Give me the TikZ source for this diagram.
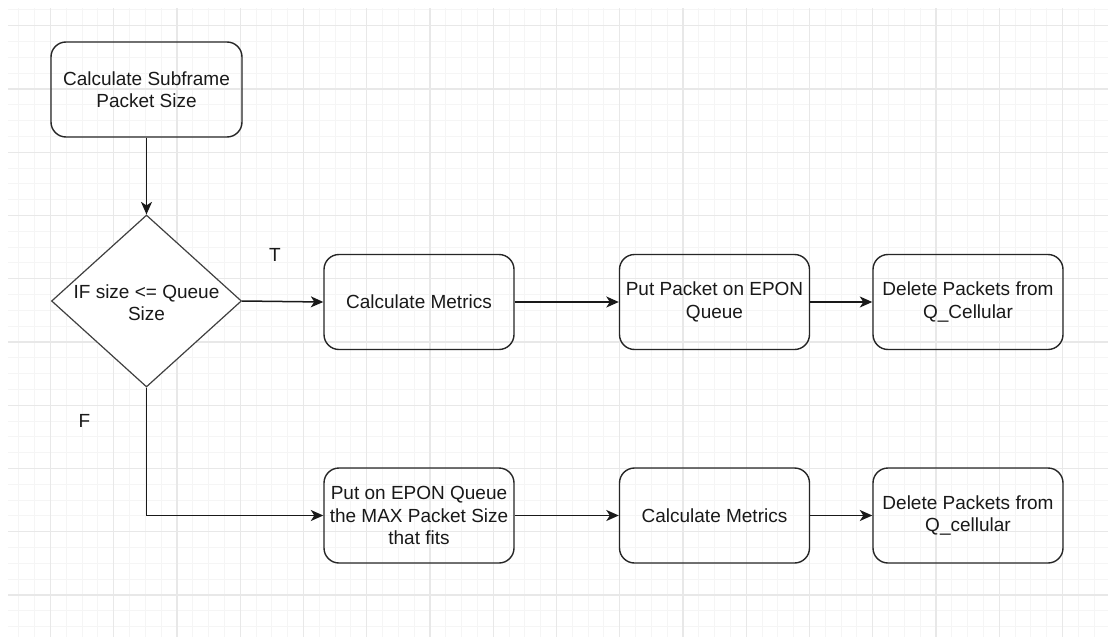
\documentclass[tikz,border=0pt]{standalone}
\usepackage{fontspec}
\setmainfont{Liberation Sans}
\usetikzlibrary{shapes.geometric,arrows.meta}
\begin{document}
\begin{tikzpicture}[x=1pt,y=-1pt,
  txt/.style={font=\fontsize{19}{22.3}\selectfont, text=black!90},
  proc/.style={draw=black!85, line width=1.4pt, rounded corners=15pt,
    minimum width=190pt, minimum height=95pt, inner sep=0pt, align=center, txt},
  decision/.style={diamond, draw=black!75, line width=1.2pt,
    minimum width=190pt, minimum height=172pt, inner sep=0pt},
  flow/.style={draw=black!90, line width=1.5pt,
    -{Stealth[length=12.5pt,width=11pt,inset=3.5pt]}},
  branch/.style={txt, inner sep=0pt},
  minorline/.style={draw=black!4, line width=1pt},
  majorline/.style={draw=black!9, line width=1.2pt}]
\useasboundingbox (0,0) rectangle (1108,637);
\fill[white] (0,0) rectangle (1108,637);

% background grid: fine lines every 15.8, heavier every fourth
\foreach \i in {0,...,68} {
  \pgfmathsetmacro\gx{18.875+\i*15.8125}
  \draw[minorline] (\gx,8) -- (\gx,637);
}
\foreach \j in {0,...,39} {
  \pgfmathsetmacro\gy{9.8875+\j*15.8125}
  \draw[minorline] (8,\gy) -- (1108,\gy);
}
\foreach \i in {2,6,...,66} {
  \pgfmathsetmacro\gx{18.875+\i*15.8125}
  \draw[majorline] (\gx,8) -- (\gx,637);
}
\foreach \j in {1,5,...,37} {
  \pgfmathsetmacro\gy{9.8875+\j*15.8125}
  \draw[majorline] (8,\gy) -- (1108,\gy);
}

% process steps
\node[proc, minimum width=191pt] (subframe) at (146.5,89.5) {Calculate Subframe\\Packet Size};
\node[decision, fill=white] (check) at (146.5,301) {};
\node[txt, align=center, inner sep=0pt] (checktext) at (146.5,302.5) {IF size <= Queue\\Size};

\node[proc] (metricsA) at (419,302) {Calculate Metrics};
\node[proc] (eponA) at (714.5,302) {Put Packet on EPON\\Queue};
\node[proc] (deleteA) at (968,302) {Delete Packets from\\Q\_Cellular};

\node[proc] (eponB) at (419,515.5) {Put on EPON Queue\\the MAX Packet Size\\that fits};
\node[proc] (metricsB) at (714.5,515.5) {Calculate Metrics};
\node[proc] (deleteB) at (968,515.5) {Delete Packets from\\Q\_cellular};

% branch labels
\node[branch] (labelT) at (275,255) {T};
\node[branch] (labelF) at (84.5,421) {F};

% connectors
\draw[flow] (subframe.south) -- (check.north);
\draw[flow] (check.east) -- (metricsA.west);
\draw[flow] (metricsA.east) -- (eponA.west);
\draw[flow] (eponA.east) -- (deleteA.west);
\draw[flow] (check.south) |- (eponB.west);
\draw[flow] (eponB.east) -- (metricsB.west);
\draw[flow] (metricsB.east) -- (deleteB.west);
\end{tikzpicture}
\end{document}
